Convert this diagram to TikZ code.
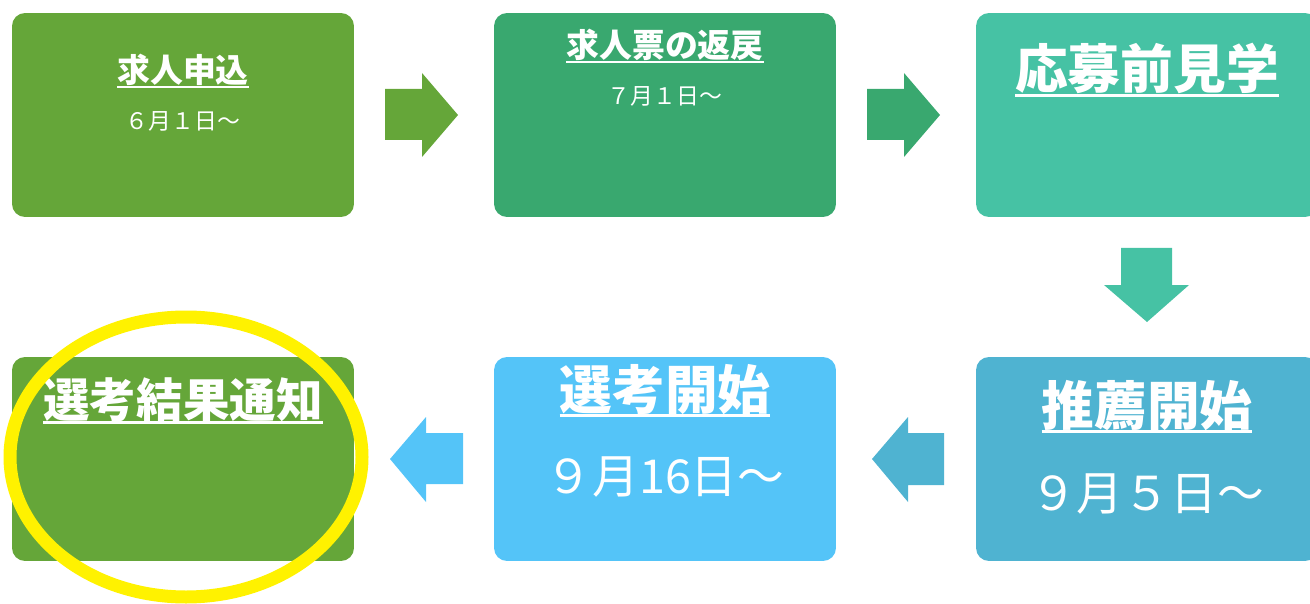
\documentclass[tikz,border=0pt]{standalone}
\usepackage{fontspec}
\setmainfont{Noto Sans CJK JP}
\definecolor{grA}{HTML}{65A639}
\definecolor{grB}{HTML}{39A86F}
\definecolor{grC}{HTML}{46C2A4}
\definecolor{blA}{HTML}{4FB3D1}
\definecolor{blB}{HTML}{54C4F8}
\newcommand\ulin[1]{\setbox0=\hbox{#1}\rlap{\rule[-0.15em]{\wd0}{0.06em}}\box0}
\begin{document}
\begin{tikzpicture}[x=0.02cm,y=-0.02cm,
  box/.style={draw=none,rounded corners=0.26cm,minimum width=6.84cm,minimum height=4.08cm,inner sep=0pt},
  ttl/.style={text=white,anchor=base,inner sep=0pt},
  dte/.style={text=white,anchor=base,inner sep=0pt}]
\useasboundingbox (0,0) rectangle (1310,604);
\node[box,fill=grA] (apply) at (183,115) {};
\node[box,fill=grB] (back) at (665,115) {};
\node[box,fill=grC] (visit) at (1147,115) {};
\node[box,fill=grA] (result) at (183,459) {};
\node[box,fill=blB] (select) at (665,459) {};
\node[box,fill=blA] (recom) at (1147,459) {};
\node[ttl,font=\fontsize{18.7}{20}\selectfont\bfseries] (applyT) at (183,83) {\ulin{求人申込}};
\node[dte,font=\fontsize{13}{15}\selectfont] (applyD) at (183,130) {６月１日～};
\node[ttl,font=\fontsize{18.7}{20}\selectfont\bfseries] (backT) at (665,58) {\ulin{求人票の返戻}};
\node[dte,font=\fontsize{13}{15}\selectfont] (backD) at (665,105) {７月１日～};
\node[ttl,font=\fontsize{30}{32}\selectfont\bfseries] (visitT) at (1147,89) {\ulin{応募前見学}};
\node[ttl,font=\fontsize{30}{32}\selectfont\bfseries] (recomT) at (1147,425) {\ulin{推薦開始}};
\node[dte,font=\fontsize{26.6}{28}\selectfont] (recomD) at (1147,510) {９月５日～};
\node[ttl,font=\fontsize{30}{32}\selectfont\bfseries] (selectT) at (665,409) {\ulin{選考開始}};
\node[dte,font=\fontsize{26.6}{28}\selectfont] (selectD) at (665,493) {９月16日～};
\node[ttl,font=\fontsize{26.5}{28}\selectfont\bfseries] (resultT) at (183,417) {\ulin{選考結果通知}};
\fill[grA] (385,89)--(422,89)--(422,73)--(458,115)--(422,157)--(422,140)--(385,140)--cycle;
\fill[grB] (867,89)--(904,89)--(904,73)--(940,115)--(904,157)--(904,140)--(867,140)--cycle;
\fill[grC] (1121,248)--(1172,248)--(1172,285)--(1189,285)--(1147,322)--(1104,285)--(1121,285)--cycle;
\fill[blA] (944,433)--(908,433)--(908,417)--(872,459)--(908,502)--(908,485)--(944,485)--cycle;
\fill[blB] (463,433)--(426,433)--(426,417)--(390,459)--(426,502)--(426,484)--(463,484)--cycle;
\draw[yellow,line width=0.26cm] (186,457) ellipse [x radius=176,y radius=140];
\end{tikzpicture}
\end{document}
